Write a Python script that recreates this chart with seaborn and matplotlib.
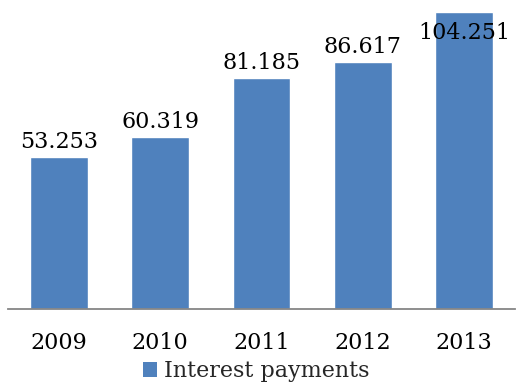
import matplotlib
matplotlib.use("Agg")
import matplotlib.pyplot as plt
import seaborn as sns
import pandas as pd
from matplotlib.patches import Patch

years = ["2009", "2010", "2011", "2012", "2013"]
values = [53.253, 60.319, 81.185, 86.617, 104.251]
series_name = "Interest payments"
labels = ["53.253", "60.319", "81.185", "86.617", "104.251"]

sns.set_theme(style="white")
plt.rcParams['font.family'] = ['DejaVu Serif']

df = pd.DataFrame({"year": years, "value": values})

fig = plt.figure(figsize=(5.18, 3.85), dpi=100)
ax = fig.add_axes([8/518, (385-308.5)/385, 507/518, 308.5/385])

sns.barplot(data=df, x="year", y="value", color="#4F81BD", saturation=1,
            width=0.57, ax=ax, legend=False)

ytop = 108.55
ax.set_ylim(0, ytop)
ax.set_xlim(-0.5, 4.5)

px = ytop / 308.5
for i, (v, lab) in enumerate(zip(values, labels)):
    y = min(v + 9 * px, ytop - 39 * px)
    ax.text(i, y, lab, ha="center", va="baseline", fontsize=16, color="black")

for s in ["top", "right", "left"]:
    ax.spines[s].set_visible(False)
ax.spines["bottom"].set_color("#868686")
ax.spines["bottom"].set_linewidth(1.3)
ax.set_yticks([])
ax.set_xlabel("")
ax.set_ylabel("")
ax.tick_params(axis="x", length=0, pad=17, labelsize=16, labelcolor="black")

h = Patch(facecolor="#4F81BD", edgecolor="none")
fig.legend([h], [series_name], loc="center", bbox_to_anchor=(256/518, 1 - 371/385),
           frameon=False, fontsize=16, handlelength=0.66, handleheight=0.66,
           handletextpad=0.3, borderpad=0, borderaxespad=0)

fig.savefig("out.png", dpi=100)
